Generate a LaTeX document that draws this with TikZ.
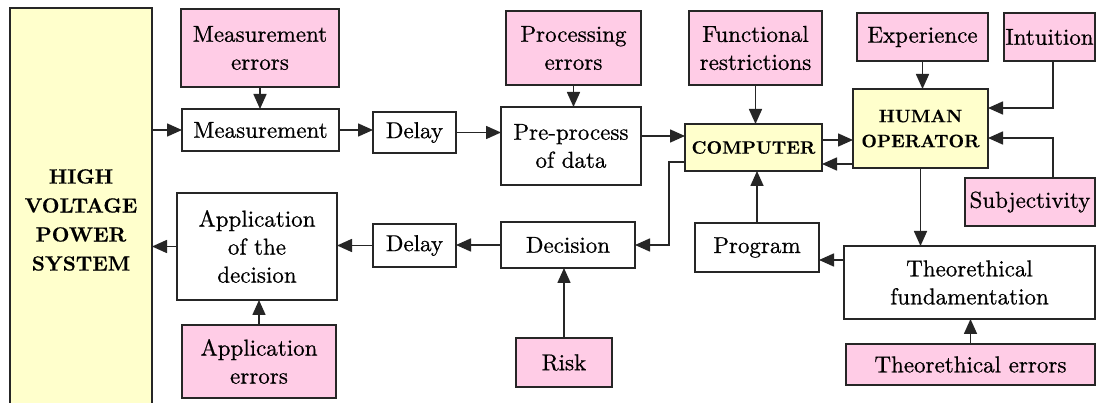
\documentclass[tikz,border=0pt]{standalone}
\usepackage{fontspec}
\setmainfont{lmroman10}[Extension=.otf, UprightFont=*-regular, BoldFont=*-bold,
  ItalicFont=*-italic, BoldItalicFont=*-bolditalic,
  UprightFeatures={FakeBold=0.7}, BoldFeatures={FakeBold=0.4}]
\usetikzlibrary{arrows.meta}
\definecolor{pinkbox}{HTML}{FFCCE6}
\definecolor{yellowbox}{HTML}{FFFFCC}
\tikzset{
  box/.style={draw=black!85, line width=1.8pt, fill=white, inner sep=0pt, outer sep=0pt,
    align=center, font=\rmfamily\fontsize{23}{28}\selectfont, text=black},
  errbox/.style={box, fill=pinkbox},
  corebox/.style={box, fill=yellowbox, font=\rmfamily\bfseries\fontsize{18}{25}\selectfont},
  arr/.style={line width=1.6pt, draw=black!85, -{Triangle[length=15pt,width=13pt]}},
  sz/.style n args={2}{minimum width=#1pt, minimum height=#2pt}
}
\begin{document}
\begin{tikzpicture}[x=1pt,y=-1pt]
\clip (0,0) rectangle (1096,403);
\fill[white] (0,0) rectangle (1096,403);

% power system block
\node[corebox, sz={142}{400}] (hv) at (81,208) {};
\node[font=\rmfamily\bfseries\fontsize{20.5}{29}\selectfont, align=center] (hvtext) at (81,220)
  {HIGH\\VOLTAGE\\POWER\\SYSTEM};

% measurement branch
\node[errbox, sz={158}{78}] (measerr) at (260,48) {Measurement\\errors};
\node[box, sz={157}{42}] (meas) at (260.5,130) {Measurement};
\node[box, sz={83}{41}] (delay1) at (414.5,132.5) {Delay};
\node[errbox, sz={135}{74}] (procerr) at (573.5,48) {Processing\\errors};
\node[box, sz={140}{78}] (pre) at (571,146) {Pre-process\\of data};

% computer and operator
\node[errbox, sz={133}{74}] (funcres) at (755.5,48) {Functional\\restrictions};
\node[corebox, sz={137}{47}] (comp) at (753.5,147.5) {COMPUTER};
\node[errbox, sz={131}{48}] (exp) at (922.5,37) {Experience};
\node[errbox, sz={91}{48}] (intu) at (1049.5,37) {Intuition};
\node[corebox, sz={135}{79}] (ho) at (920.5,128.5) {HUMAN\\OPERATOR};
\node[errbox, sz={130}{48}] (subj) at (1030,202) {Subjectivity};
\node[box, sz={251}{73}] (tf) at (969.5,282.5) {Theorethical\\fundamentation};
\node[errbox, sz={249}{41}] (terr) at (970.5,364.5) {Theorethical errors};
\node[box, sz={124}{49}] (prog) at (757,247.5) {Program};

% decision branch
\node[box, sz={134}{46}] (dec) at (568,245) {Decision};
\node[errbox, sz={96}{49}] (risk) at (564,362.5) {Risk};
\node[box, sz={83}{43}] (delay2) at (414.5,245.5) {Delay};
\node[box, sz={160}{107}] (app) at (257,246.5) {Application\\of the\\decision};
\node[errbox, sz={154}{73}] (apperr) at (259,361.5) {Application\\errors};

% forward path
\draw[arr] (meas.west -| hv.east) -- (meas.west);
\draw[arr] (measerr.south) -- (measerr.south |- meas.north);
\draw[arr] (meas.east) -- (meas.east -| delay1.west);
\draw[arr] (delay1.east) -- (delay1.east -| pre.west);
\draw[arr] (procerr.south) -- (procerr.south |- pre.north);
\draw[arr] ([yshift=10pt]pre.east) -- ([yshift=10pt]pre.east -| comp.west);
\draw[arr] (funcres.south) -- (funcres.south |- comp.north);

% computer <-> operator
\draw[arr] ([yshift=7.5pt]comp.east) -- ([yshift=7.5pt]comp.east -| ho.west);
\draw[arr] ([yshift=-16.5pt]comp.east -| ho.west) -- ([yshift=-16.5pt]comp.east);
\draw[arr] (exp.south) -- (exp.south |- ho.north);
\draw[arr] ([xshift=3.5pt]intu.south) |- ([yshift=20.5pt]ho.east);
\draw[arr] ([xshift=23pt]subj.north) |- ([yshift=-9.5pt]ho.east);
\draw[arr] (ho.south) -- (ho.south |- tf.north);
\draw[arr] (terr.north) -- (terr.north |- tf.south);
\draw[arr] ([yshift=22.5pt]tf.west) -- ([yshift=22.5pt]tf.west -| prog.east);
\draw[arr] (prog.north) -- (prog.north |- comp.south);

% return path
\draw[arr] ([yshift=-14.5pt]comp.west) -- ++(-16,0) |- (dec.east);
\draw[arr] (risk.north) -- (risk.north |- dec.south);
\draw[arr] (dec.west) -- (dec.west -| delay2.east);
\draw[arr] (delay2.west) -- (delay2.west -| app.east);
\draw[arr] (apperr.north) -- (apperr.north |- app.south);
\draw[arr] (app.west) -- (app.west -| hv.east);
\end{tikzpicture}
\end{document}
